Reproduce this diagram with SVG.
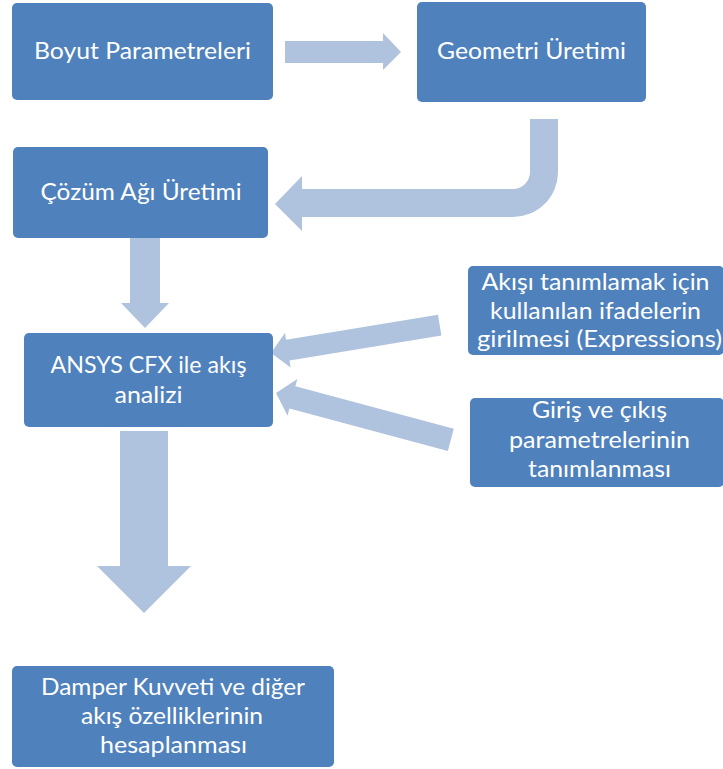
<svg xmlns="http://www.w3.org/2000/svg" width="723" height="769" viewBox="0 0 723 769">
<style>
.box{fill:#4F81BD;}
.arr{fill:#B0C3DE;}
text{font-family:Lato,"Open Sans","Liberation Sans",sans-serif;font-size:24px;fill:#FFFFFF;text-anchor:middle;}
</style>
<rect width="723" height="769" fill="#FFFFFF"/>
<g id="connectors">
<polygon class="arr" points="285,41 383,41 383,33 401,52 383,70 383,63 285,63"/>
<path class="arr" d="M530,119 L558,119 L558,172 A45,45 0 0 1 513,217 L302,217 L302,231 L275,204 L302,176 L302,189 L513,189 A17,17 0 0 0 530,172 Z"/>
<polygon class="arr" points="130,238 160,238 160,303 169,303 145,328 121,303 130,303"/>
<polygon class="arr" transform="translate(271,353) rotate(-9.4)" points="0,0 17,-17.5 17,-10.5 171,-10.5 171,10.5 17,10.5 17,17.5"/>
<polygon class="arr" transform="translate(276,393) rotate(15)" points="0,0 17,-19 17,-11.5 181,-11.5 181,11.5 17,11.5 17,19"/>
<polygon class="arr" points="120,431 168,431 168,566 191,566 144,613 97,566 120,566"/>
</g>
<g id="n1">
<rect class="box" x="12" y="3" width="261" height="97" rx="5"/>
<text x="142.5" y="59" textLength="217" lengthAdjust="spacingAndGlyphs">Boyut Parametreleri</text>
</g>
<g id="n2">
<rect class="box" x="417" y="2" width="229" height="100" rx="5"/>
<text x="531.5" y="59" textLength="189" lengthAdjust="spacingAndGlyphs">Geometri Üretimi</text>
</g>
<g id="n3">
<rect class="box" x="13" y="147" width="255" height="91" rx="5"/>
<text x="141" y="200" textLength="201" lengthAdjust="spacingAndGlyphs">Çözüm Ağı Üretimi</text>
</g>
<g id="n4">
<rect class="box" x="24" y="333" width="249" height="94" rx="5"/>
<text x="148.5" y="373" textLength="196" lengthAdjust="spacingAndGlyphs">ANSYS CFX ile akış</text>
<text x="148.5" y="402.5" textLength="68" lengthAdjust="spacingAndGlyphs">analizi</text>
</g>
<g id="n5">
<rect class="box" x="468" y="266" width="256" height="89" rx="5"/>
<text x="595.5" y="290" textLength="228" lengthAdjust="spacingAndGlyphs">Akışı tanımlamak için</text>
<text x="595.5" y="318.5" textLength="211" lengthAdjust="spacingAndGlyphs">kullanılan ifadelerin</text>
<text x="599.5" y="347" textLength="245" lengthAdjust="spacingAndGlyphs">girilmesi (Expressions)</text>
</g>
<g id="n6">
<rect class="box" x="470" y="398" width="254" height="89" rx="5"/>
<text x="599.5" y="418" textLength="135" lengthAdjust="spacingAndGlyphs">Giriş ve çıkış</text>
<text x="599.5" y="448" textLength="181" lengthAdjust="spacingAndGlyphs">parametrelerinin</text>
<text x="599.5" y="477" textLength="143" lengthAdjust="spacingAndGlyphs">tanımlanması</text>
</g>
<g id="n7">
<rect class="box" x="12" y="666" width="322" height="101" rx="5"/>
<text x="173" y="694.5" textLength="264" lengthAdjust="spacingAndGlyphs">Damper Kuvveti ve diğer</text>
<text x="172" y="724" textLength="182" lengthAdjust="spacingAndGlyphs">akış özelliklerinin</text>
<text x="173.5" y="752.5" textLength="147" lengthAdjust="spacingAndGlyphs">hesaplanması</text>
</g>
</svg>
